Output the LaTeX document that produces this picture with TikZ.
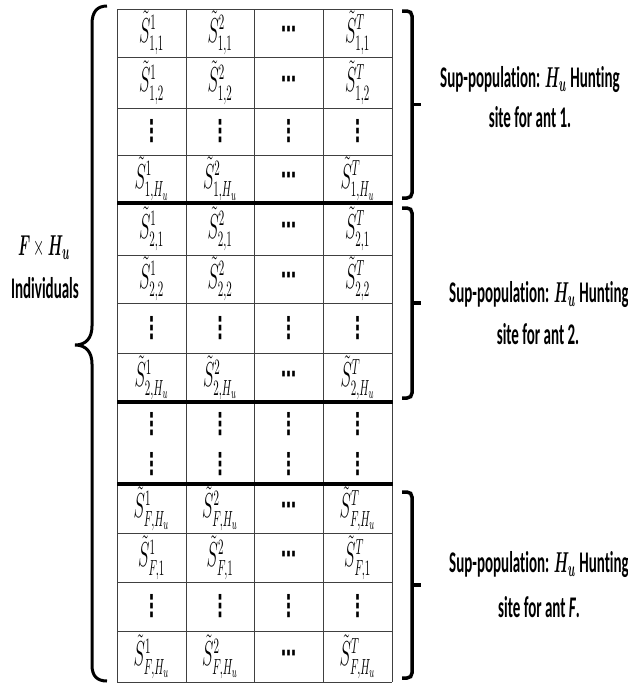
\documentclass[tikz,border=0pt]{standalone}
\usepackage{fontspec}
\usepackage{graphicx}
\usepackage{bm}
\setmainfont{Carlito}[Ligatures=NoCommon]
\newfontfamily\symfont{DejaVu Sans}
\newcommand{\tallbox}[1]{\scalebox{1}[2]{#1}}
\newcommand{\Scell}[2]{\tallbox{$\tilde{S}^{#1}_{#2}$}}
\newcommand{\vdt}{\tallbox{{\symfont\bfseries\fontsize{15}{17}\selectfont ⋮}}}
\newcommand{\hdt}{\tallbox{{\symfont\bfseries\fontsize{15}{17}\selectfont ⋯}}}
\newcommand{\suppop}{Sup-populat\kern0pt ion: $\bm{H_u}$ Hunt\kern0pt ing}
\tikzset{
  cell/.style={inner sep=0pt, font=\fontsize{16}{19}\selectfont},
  lab/.style={inner sep=0pt, anchor=base, font=\fontsize{15}{18}\selectfont\bfseries},
  gridline/.style={draw=black!75, line width=0.9pt},
  sepline/.style={draw=black, line width=4.5pt},
  brace/.style={draw=black, line width=3pt},
  rbrace/.style={draw=black, line width=3.5pt},
}
\begin{document}
\begin{tikzpicture}[x=1pt,y=-1pt]
\useasboundingbox (0,0) rectangle (628,686);
% grid
\foreach \yy in {9,57,108,155,255,303,353,533,582,631,682}
  \draw[gridline] (117,\yy) -- (392,\yy);
\foreach \xx in {117,186,254,323,392}
  \draw[gridline] (\xx,9) -- (\xx,682);
\foreach \yy in {203,402,484}
  \draw[sepline] (117,\yy) -- (393,\yy);
% cells with entries
\foreach \r/\yy/\s in {1/33/{1,1}, 2/82.5/{1,2}, 4/179/{1,H_u}, 5/229/{2,1}, 6/279/{2,2}, 8/377.5/{2,H_u}, 9/508.5/{F,H_u}, 10/557.5/{F,1}, 12/656.5/{F,H_u}}{
  \node[cell] (c\r-1) at (151.5,\yy) {\Scell{1}{\s}};
  \node[cell] (c\r-2) at (220,\yy) {\Scell{2}{\s}};
  \node[cell] (c\r-3) at (288.5,\yy) {\hdt};
  \node[cell] (c\r-4) at (357.5,\yy) {\Scell{T}{\s}};
}
% vertical dots rows
\foreach \r/\yy in {3/131.5, 7/328, 11/606.5, 13/424, 14/464}{
  \node[cell] (c\r-1) at (151.5,\yy) {\vdt};
  \node[cell] (c\r-2) at (220,\yy) {\vdt};
  \node[cell] (c\r-3) at (288.5,\yy) {\vdt};
  \node[cell] (c\r-4) at (357.5,\yy) {\vdt};
}
% left brace
\draw[brace] (107,6) .. controls (97,6) and (92,12) .. (92,24) -- (92,326)
  .. controls (92,338) and (86,345) .. (75,345)
  .. controls (86,345) and (92,352) .. (92,364) -- (92,665)
  .. controls (92,676) and (97,681) .. (107,681);
% right braces
\foreach \t/\b in {11/198, 208/398, 492/678}{
  \draw[rbrace] (402,\t) -- (407,\t) .. controls (410,\t) and (412,\t+2) .. (412,\t+5) -- (412,\b-5)
    .. controls (412,\b-2) and (410,\b) .. (407,\b) -- (402,\b);
  \draw[rbrace] (412,{(\t+\b)/2}) -- (421,{(\t+\b)/2});
}
% labels
\node[lab] (l1) at (44,255) {\tallbox{$\bm{F}\times\bm{H_u}$}};
\node[lab] (l2) at (45,298) {\tallbox{Individuals}};
\node[lab] (t1a) at (530,87) {\tallbox{\suppop}};
\node[lab] (t1b) at (530,127) {\tallbox{site for ant 1.}};
\node[lab] (t2a) at (539,302) {\tallbox{\suppop}};
\node[lab] (t2b) at (538,344) {\tallbox{site for ant 2.}};
\node[lab] (t3a) at (539,572) {\tallbox{\suppop}};
\node[lab] (t3b) at (539,617) {\tallbox{site for ant \textit{F}.}};
\end{tikzpicture}
\end{document}
